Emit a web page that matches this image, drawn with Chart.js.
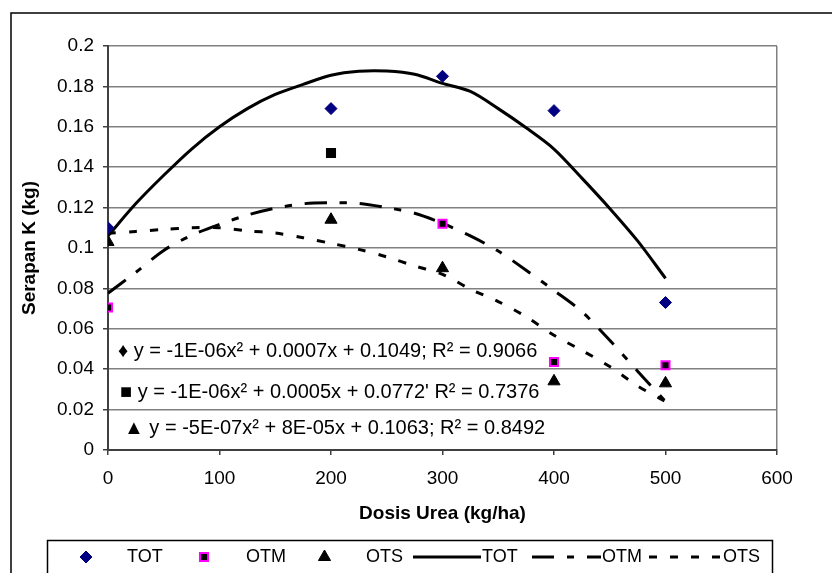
<!DOCTYPE html>
<html><head><meta charset="utf-8">
<script src="https://cdn.jsdelivr.net/npm/chart.js@4.4.0/dist/chart.umd.min.js"></script>
<style>html,body{margin:0;padding:0;background:#fff;}#wrap{width:832px;height:573px;position:relative;}</style>
</head><body><div id="wrap"><canvas id="c" width="832" height="573"></canvas></div>
<script>
// ---- data ----
const doses = [0, 200, 300, 400, 500];
const totValues = [0.110, 0.169, 0.185, 0.168, 0.073];
const otmValues = [0.0705, 0.147, 0.112, 0.0436, 0.042];
const otsValues = [0.103, 0.114, 0.090, 0.034, 0.033];

const curveDoses = [0, 25, 50, 75, 100, 125, 150, 175, 200, 225, 250, 275, 300, 325, 350, 375, 400, 425, 450, 475, 500];
const totCurve = [0.106, 0.122, 0.136, 0.149, 0.160, 0.169, 0.176, 0.181, 0.1855, 0.1875, 0.1876, 0.186, 0.1815, 0.1775, 0.169, 0.1595, 0.149, 0.1346, 0.1196, 0.1035, 0.085];
const otmCurve = [0.0776, 0.088, 0.0988, 0.1063, 0.1117, 0.1163, 0.1197, 0.1219, 0.1224, 0.1221, 0.120, 0.1172, 0.1122, 0.106, 0.0985, 0.089, 0.079, 0.0685, 0.0543, 0.039, 0.024];
const otsCurve = [0.1073, 0.1082, 0.1092, 0.1100, 0.1100, 0.1085, 0.1074, 0.1051, 0.1023, 0.0993, 0.0956, 0.0911, 0.0870, 0.0796, 0.0735, 0.066, 0.0568, 0.0493, 0.0413, 0.0317, 0.024];

const seriesNames = ['TOT', 'OTM', 'OTS'];
const equations = [
  '\u2666 y = -1E-06x\u00B2 + 0.0007x + 0.1049; R\u00B2 = 0.9066',
  '\u25A0 y = -1E-06x\u00B2 + 0.0005x + 0.0772\' R\u00B2 = 0.7376',
  '\u25B2 y = -5E-07x\u00B2 + 8E-05x + 0.1063; R\u00B2 = 0.8492'
];
const xTitle = 'Dosis Urea (kg/ha)';
const yTitle = 'Serapan K (kg)';

// ---- chart ----
const FONT = '"Liberation Sans", Arial, sans-serif';
const pts = (xs, ys) => xs.map((x, i) => ({x: x, y: ys[i]}));

const datasets = [
  {label: seriesNames[0], data: pts(doses, totValues), showLine: false, pointStyle: 'rectRot',
   pointRadius: 6, pointBackgroundColor: '#000080', pointBorderColor: '#000080', pointBorderWidth: 1},
  {label: seriesNames[1], data: pts(doses, otmValues), showLine: false, pointStyle: 'rect',
   pointRadius: 5.7, pointBackgroundColor: '#000000',
   pointBorderColor: ['#FF00FF', '#000000', '#FF00FF', '#FF00FF', '#FF00FF'], pointBorderWidth: 2},
  {label: seriesNames[2], data: pts(doses, otsValues), showLine: false, pointStyle: 'triangle',
   pointRadius: 7, pointBackgroundColor: '#000000', pointBorderColor: '#000000', pointBorderWidth: 1},
  {label: seriesNames[0], data: pts(curveDoses, totCurve), showLine: true, pointRadius: 0,
   borderColor: '#000', borderWidth: 3, tension: 0.3, borderDash: []},
  {label: seriesNames[1], data: pts(curveDoses, otmCurve), showLine: true, pointRadius: 0,
   borderColor: '#000', borderWidth: 3, tension: 0.3, borderDash: [22, 13, 7, 13]},
  {label: seriesNames[2], data: pts(curveDoses, otsCurve), showLine: true, pointRadius: 0,
   borderColor: '#000', borderWidth: 3, tension: 0.3, borderDash: [8, 13]}
];

const framePlugin = {
  id: 'frame',
  beforeDraw(chart) {
    const ctx = chart.ctx;
    ctx.save();
    ctx.fillStyle = '#fff';
    ctx.fillRect(0, 0, chart.width, chart.height);
    ctx.strokeStyle = '#000';
    ctx.lineWidth = 1.5;
    ctx.strokeRect(11, 13, 900, 700);
    ctx.restore();
  },
  afterDraw(chart) {
    const ctx = chart.ctx;
    ctx.save();
    // trendline equations
    ctx.fillStyle = '#000';
    ctx.font = '20px ' + FONT;
    ctx.textBaseline = 'middle';
    ctx.textAlign = 'left';
    const eqY = [351, 392, 428];
    const eqX = [118, 120, 124];
    equations.forEach((t, i) => ctx.fillText(t, eqX[i], eqY[i]));

    // legend
    ctx.font = '18px ' + FONT;
    ctx.strokeStyle = '#000';
    ctx.lineWidth = 1.5;
    ctx.strokeRect(47.5, 540.5, 725, 60);
    const ly = 557;
    const markerX = [86, 204, 324.5];
    const markerTextX = [127, 246, 366];
    const lineStart = [413, 532, 649];
    const lineEnd = [481, 601, 722];
    const ds = chart.data.datasets;
    for (let i = 0; i < 3; i++) {
      const d = ds[i];
      const bc = Array.isArray(d.pointBorderColor) ? d.pointBorderColor[0] : d.pointBorderColor;
      ctx.fillStyle = d.pointBackgroundColor;
      ctx.strokeStyle = bc;
      ctx.lineWidth = d.pointBorderWidth;
      ctx.setLineDash([]);
      Chart.helpers.drawPoint(ctx, {pointStyle: d.pointStyle, radius: d.pointRadius, borderWidth: d.pointBorderWidth, rotation: 0}, markerX[i], ly);
      ctx.fillStyle = '#000';
      ctx.fillText(d.label, markerTextX[i], ly);
    }
    for (let i = 0; i < 3; i++) {
      const d = ds[i + 3];
      ctx.strokeStyle = d.borderColor;
      ctx.lineWidth = d.borderWidth;
      ctx.setLineDash(d.borderDash);
      ctx.beginPath();
      ctx.moveTo(lineStart[i], ly);
      ctx.lineTo(lineEnd[i], ly);
      ctx.stroke();
      ctx.setLineDash([]);
      ctx.fillStyle = '#000';
      ctx.fillText(d.label, lineEnd[i] + 1, ly);
    }
    ctx.restore();
  }
};

new Chart(document.getElementById('c'), {
  type: 'scatter',
  data: {datasets},
  options: {
    responsive: false,
    animation: false,
    devicePixelRatio: 1,
    layout: {padding: {left: 0, right: 55, top: 46, bottom: 0}},
    plugins: {legend: {display: false}, tooltip: {enabled: false}},
    scales: {
      x: {
        type: 'linear', min: 0, max: 600,
        afterFit: s => { s.height = 123; },
        ticks: {stepSize: 100, color: '#000', font: {family: FONT, size: 19}, padding: 12},
        grid: {
          drawOnChartArea: true,
          color: c => (c.tick && c.tick.value === 600) ? '#808080' : 'rgba(0,0,0,0)',
          lineWidth: 1.5, tickLength: 5, tickColor: '#404040', tickWidth: 1.5
        },
        border: {color: '#404040', width: 2},
        title: {display: true, text: xTitle, color: '#000', font: {family: FONT, size: 19, weight: 'bold'}, padding: {top: 0, bottom: 48}}
      },
      y: {
        min: 0, max: 0.2,
        afterFit: s => { s.width = 108; },
        ticks: {stepSize: 0.02, color: '#000', font: {family: FONT, size: 19}, padding: 9,
                callback: v => String(parseFloat(v.toFixed(2)))},
        grid: {color: '#808080', lineWidth: 1.5, tickLength: 5, tickColor: '#404040', tickWidth: 1.5},
        border: {color: '#404040', width: 2},
        title: {display: true, text: yTitle, color: '#000', font: {family: FONT, size: 19, weight: 'bold'}, padding: {top: 18, bottom: 0}}
      }
    }
  },
  plugins: [framePlugin]
});
</script></body></html>
